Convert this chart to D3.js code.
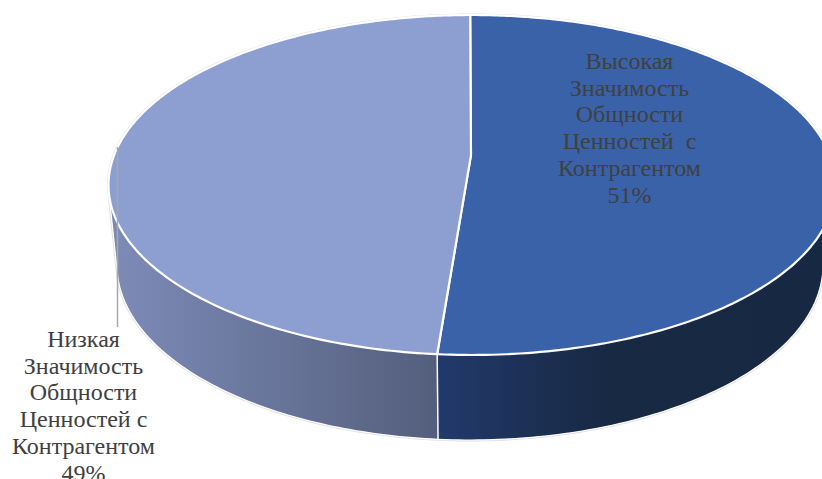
<!DOCTYPE html>
<html lang="ru">
<head>
<meta charset="utf-8">
<title>Значимость Общности Ценностей с Контрагентом</title>
<script src="https://cdn.jsdelivr.net/npm/d3@7/dist/d3.min.js"></script>
<style>
  html, body { margin: 0; padding: 0; background: #fff; overflow: hidden; }
  svg { display: block; }
  text { font-family: "Liberation Serif", "Times New Roman", serif; white-space: pre; }
</style>
</head>
<body>
<svg id="chart" width="822" height="479"></svg>
<script>
// Slice data
const categories = ["Высокая Значимость Общности Ценностей с Контрагентом", "Низкая Значимость Общности Ценностей с Контрагентом"];
const shares = [51, 49];
const labelLines = [
  ["Высокая", "Значимость", "Общности", "Ценностей  с", "Контрагентом", "51%"],
  ["Низкая", "Значимость", "Общности", "Ценностей с", "Контрагентом", "49%"]
];
const topColors = ["#3a62a9", "#8d9ed1"];
const wallStops = [
  [["0%", "#223a6c"], ["42%", "#182944"], ["100%", "#172843"]],
  [["0%", "#7c8ab6"], ["100%", "#545e7c"]]
];

// Viewing geometry of the tilted disc; each rim has its own perspective anchor,
// the point where the disc's centre lands inside the rim ellipse
const startAngle = -0.0003;
const topRim = { cx: 472, cy: 185, rx: 363.5, ry: 170, anchorX: -0.0028, anchorY: -0.176 };
const floorRim = { cx: 470, cy: 265, rx: 353, ry: 175, anchorX: -0.0006, anchorY: -0.176 };
const textColor = "#404040";

const svg = d3.select("#chart");
const defs = svg.append("defs");

const rimScales = rim => ({
  x: d3.scaleLinear().domain([-1, 1]).range([rim.cx - rim.rx, rim.cx + rim.rx]),
  y: d3.scaleLinear().domain([-1, 1]).range([rim.cy - rim.ry, rim.cy + rim.ry]),
  ax: rim.anchorX,
  ay: rim.anchorY
});
const topScale = rimScales(topRim);
const floorScale = rimScales(floorRim);

// Perspective: a disc automorphism w = (z + a) / (1 + conj(a) z)
function onRim(scale, r, angle) {
  const zx = r * Math.sin(angle), zy = -r * Math.cos(angle);
  const ax = scale.ax, ay = scale.ay;
  const nx = zx + ax, ny = zy + ay;
  const dx = 1 + ax * zx + ay * zy, dy = ax * zy - ay * zx;
  const den = dx * dx + dy * dy;
  return [scale.x((nx * dx + ny * dy) / den), scale.y((ny * dx - nx * dy) / den)];
}

const pie = d3.pie().sort(null).startAngle(startAngle).endAngle(startAngle + 2 * Math.PI);
const arcs = pie(shares);
const line = d3.line();
const angleSteps = (a, b) => d3.range(0, 241).map(i => a + (b - a) * i / 240);
const closed = pts => line(pts) + "Z";

// Wall shading runs left to right across each slice
const seamAngle = arcs[0].endAngle;
const seamX = onRim(floorScale, 1, seamAngle)[0];
arcs.forEach((d, i) => {
  const grad = defs.append("linearGradient").attr("id", "wall-" + i)
    .attr("gradientUnits", "userSpaceOnUse")
    .attr("x1", i === 0 ? seamX : 117).attr("x2", i === 0 ? 822 : seamX)
    .attr("y1", 0).attr("y2", 0);
  wallStops[i].forEach(s => grad.append("stop").attr("offset", s[0]).attr("stop-color", s[1]));
});

const rimPoints = (scale, d) => angleSteps(d.startAngle, d.endAngle).map(a => onRim(scale, 1, a));
const wallBand = d => rimPoints(topScale, d).concat(rimPoints(floorScale, d).reverse());
const wallHull = d => d3.polygonHull(rimPoints(topScale, d).concat(rimPoints(floorScale, d)));

// Outer silhouette of the whole solid: faint grey edge with a white outline inside it
const silhouette = closed(d3.polygonHull(arcs.flatMap(d => rimPoints(topScale, d).concat(rimPoints(floorScale, d)))));
svg.append("path").attr("d", silhouette).attr("fill", "none").attr("stroke", "#e2e2e2").attr("stroke-width", 3);

// Side walls: the hull reaches the silhouette, the band keeps the seam upright
defs.append("clipPath").attr("id", "solid-clip").append("path").attr("d", silhouette);
const walls = svg.append("g").attr("clip-path", "url(#solid-clip)");
walls.selectAll("path.hull").data(arcs.slice().reverse()).join("path")
  .attr("class", "hull")
  .attr("d", d => closed(wallHull(d)))
  .attr("fill", d => `url(#wall-${d.index})`);
walls.selectAll("path.band").data(arcs).join("path")
  .attr("class", "band")
  .attr("d", d => closed(wallBand(d)))
  .attr("fill", d => `url(#wall-${d.index})`);

// Seam between the two walls
svg.append("path")
  .attr("d", line([onRim(topScale, 1, seamAngle), onRim(floorScale, 1, seamAngle)]))
  .attr("stroke", "#fff").attr("stroke-width", 1.5).attr("fill", "none");

// White outline along the silhouette
svg.append("path").attr("d", silhouette).attr("fill", "none").attr("stroke", "#fff").attr("stroke-width", 1.2);

// Top faces
svg.append("g").selectAll("path").data(arcs).join("path")
  .attr("d", d => closed([onRim(topScale, 0, 0)].concat(rimPoints(topScale, d))))
  .attr("fill", (d, i) => topColors[i])
  .attr("stroke", "#fff").attr("stroke-width", 2.2).attr("stroke-linejoin", "round");

// Leader line of the lower-left label
const leader = d3.scaleLinear().domain([0, 1]).range([147, 327]);
svg.append("line")
  .attr("x1", 117.5).attr("x2", 117.5)
  .attr("y1", leader(0)).attr("y2", leader(1))
  .attr("stroke", "#a9a9a9").attr("stroke-width", 1.5);

// Labels
const labelAnchors = [{ x: 629.5, y: 69 }, { x: 83.5, y: 347 }];
const lineStep = 26.7;
const labels = svg.append("g").selectAll("text").data(labelLines).join("text")
  .attr("text-anchor", "middle")
  .attr("font-size", 24)
  .attr("fill", textColor);
labels.each(function (lines, i) {
  d3.select(this).selectAll("tspan").data(lines).join("tspan")
    .attr("x", labelAnchors[i].x)
    .attr("y", (t, k) => labelAnchors[i].y + k * lineStep)
    .text(t => t);
});
</script>
</body>
</html>
